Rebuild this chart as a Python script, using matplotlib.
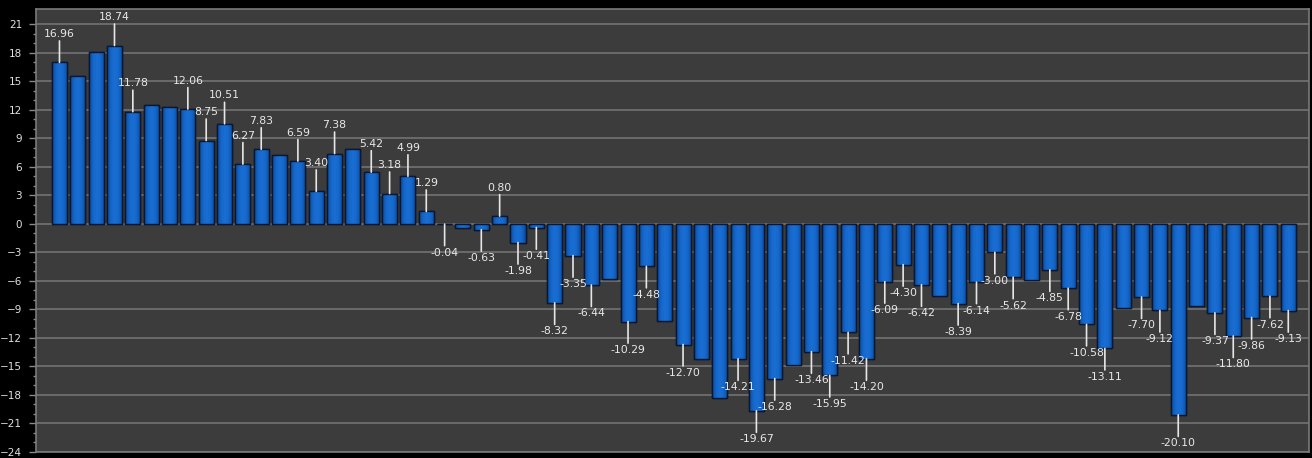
import numpy as np
import matplotlib
matplotlib.use("Agg")
import matplotlib.pyplot as plt
from matplotlib.colors import LinearSegmentedColormap

# ---- data ----
values = [16.96, 15.56, 18.05, 18.74, 11.78, 12.48, 12.27, 12.06, 8.75, 10.51,
          6.27, 7.83, 7.22, 6.59, 3.40, 7.38, 7.81, 5.42, 3.18, 4.99,
          1.29, -0.04, -0.45, -0.63, 0.80, -1.98, -0.41, -8.32, -3.35, -6.44,
          -5.78, -10.29, -4.48, -10.20, -12.70, -14.20, -18.37, -14.21, -19.67, -16.28,
          -14.80, -13.46, -15.95, -11.42, -14.20, -6.09, -4.30, -6.42, -7.60, -8.39,
          -6.14, -3.00, -5.62, -5.96, -4.85, -6.78, -10.58, -13.11, -8.87, -7.70,
          -9.12, -20.10, -8.70, -9.37, -11.80, -9.86, -7.62, -9.13]
labeled = [True, False, False, True, True, False, False, True, True, True,
           True, True, False, True, True, True, False, True, True, True,
           True, True, False, True, True, True, True, True, True, True,
           False, True, True, False, True, False, False, True, True, True,
           False, True, True, True, True, True, True, True, False, True,
           True, True, True, False, True, True, True, True, False, True,
           True, True, False, True, True, True, True, True]
y_ticks = list(range(-24, 22, 3))

# ---- style ----
W, H, DPI = 1312, 458, 100
fig = plt.figure(figsize=(W / DPI, H / DPI), dpi=DPI, facecolor="black")
ax = fig.add_axes([36 / W, 6 / H, (1309 - 36) / W, (452 - 9) / H])
ax.set_facecolor("#3c3c3c")

x = np.arange(len(values))
bw = 0.82
bars = ax.bar(x, values, width=bw, color="#1462c2", edgecolor="#0a1730",
              linewidth=1.0, zorder=3)

cmap = LinearSegmentedColormap.from_list(
    "bluegrad", ["#0b4898", "#1466c9", "#1a6fd4", "#1466c9", "#0b4898"])
grad = np.linspace(0, 1, 64).reshape(1, -1)
for xi, v, b in zip(x, values, bars):
    lo, hi = min(0, v), max(0, v)
    im = ax.imshow(grad, cmap=cmap, aspect="auto", zorder=3.5,
                   extent=[xi - bw / 2, xi + bw / 2, lo, hi], interpolation="bilinear")
    im.set_clip_path(b)
    ax.bar(xi, v, width=bw, facecolor="none", edgecolor="#0a1730", linewidth=1.0, zorder=4)

# labels with leader lines
for xi, v, show in zip(x, values, labeled):
    if not show:
        continue
    s = 1 if v > 0 else -1
    ax.annotate("", xy=(xi, v), xytext=(0, s * 15.5), textcoords="offset points",
                arrowprops=dict(arrowstyle="-", color="#e6e6e6", lw=1.2,
                                shrinkA=0, shrinkB=0), zorder=5)
    ax.annotate(f"{v:.2f}", xy=(xi, v), xytext=(0, s * 20.5), textcoords="offset points",
                ha="center", va="center", fontsize=7.8, color="#e8e8e8",
                family="DejaVu Sans", zorder=6)

ax.set_xlim(-1.28, 68.13)
ax.set_ylim(-24, 22.58)
ax.set_yticks(y_ticks)
ax.set_yticks(np.arange(-24, 22, 1), minor=True)
ax.set_xticks([])
ax.grid(axis="y", which="major", color="#6e6e6e", linewidth=1.3, zorder=1)
ax.set_axisbelow(True)
ax.tick_params(axis="y", which="major", length=5, width=1, color="#8a8a8a",
               labelcolor="#e0e0e0", labelsize=7.5, pad=5)
ax.tick_params(axis="y", which="minor", length=2.5, width=1, color="#8a8a8a")
for sp in ax.spines.values():
    sp.set_color("#7a7a7a")
    sp.set_linewidth(1.2)

fig.savefig("out.png", dpi=DPI, facecolor="black")
